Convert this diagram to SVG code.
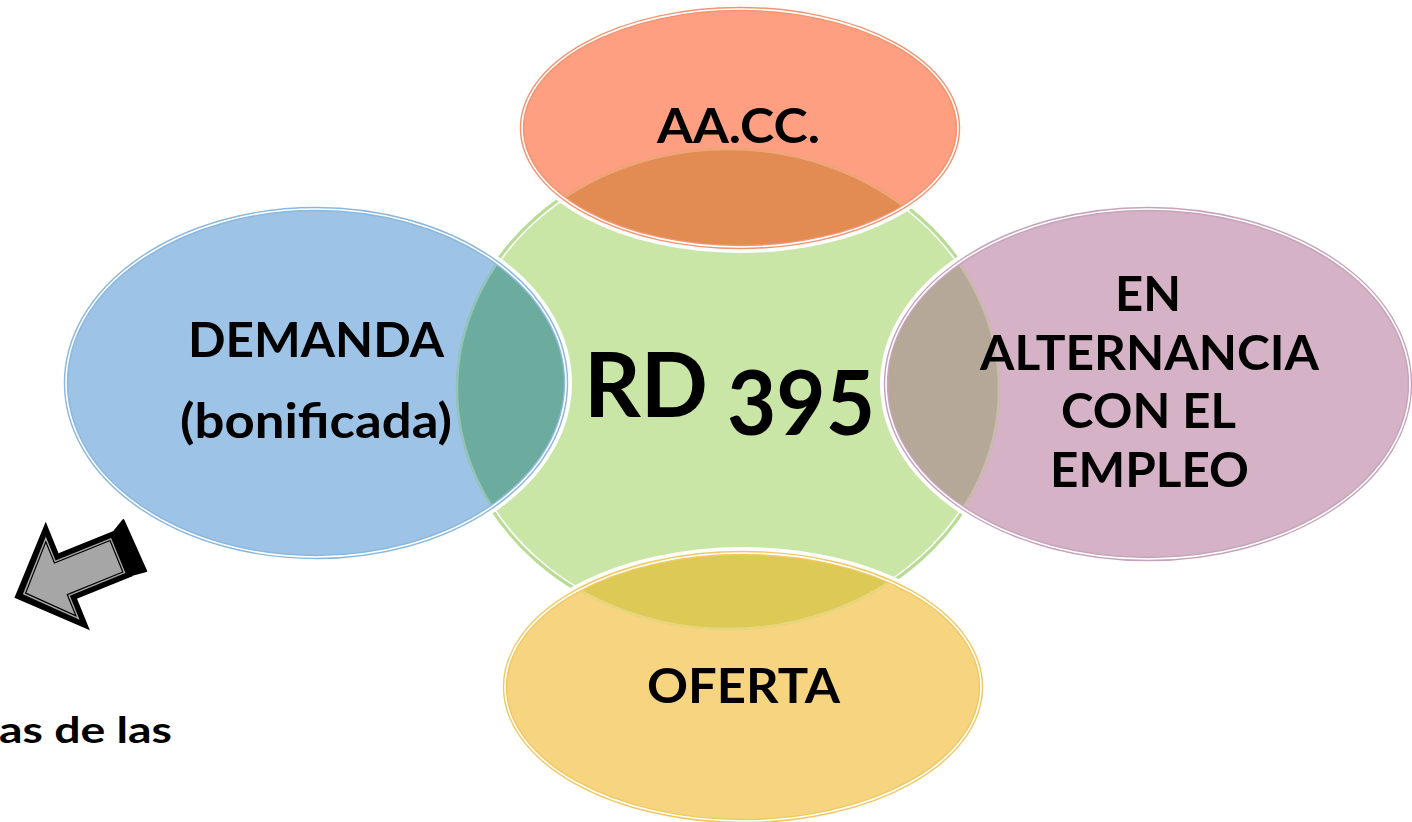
<svg xmlns="http://www.w3.org/2000/svg" width="1412" height="822" viewBox="0 0 1412 822">
<defs>
<style>
.lbl{font-family:Lato,"Open Sans","Liberation Sans",sans-serif;font-weight:700;fill:#000;font-size:48px}
.big{font-size:89px}
.halo{fill:none;stroke:#fff;stroke-width:5}
.wl{fill:none;stroke:#fff;stroke-width:1.6}
</style>
<clipPath id="cg"><ellipse cx="728" cy="389" rx="272" ry="241"/></clipPath>
<clipPath id="cb"><ellipse cx="316" cy="383" rx="250" ry="174"/></clipPath>
<clipPath id="co"><ellipse cx="740" cy="128" rx="218" ry="119"/></clipPath>
<clipPath id="cp"><ellipse cx="1148" cy="384" rx="262" ry="175"/></clipPath>
<clipPath id="cy"><ellipse cx="743" cy="687" rx="238" ry="134"/></clipPath>
</defs>
<rect width="1412" height="822" fill="#fff"/>

<g id="node-rd395">
<ellipse cx="728" cy="389" rx="272" ry="241" fill="#c9e6a6" stroke="#b8dc94" stroke-width="4"/>
<ellipse cx="728" cy="389" rx="270" ry="239" class="wl"/>
</g>

<g id="node-demanda">
<ellipse cx="316" cy="383" rx="253.5" ry="177.5" class="halo"/>
<ellipse cx="316" cy="383" rx="250" ry="174" fill="#9dc3e6"/>
<ellipse cx="316" cy="383" rx="250" ry="174" fill="#6cac9e" clip-path="url(#cg)"/>
<g clip-path="url(#cb)"><ellipse cx="728" cy="389" rx="271" ry="240" fill="none" stroke="#94c4b8" stroke-width="2.5"/></g>
<ellipse cx="316" cy="383" rx="250" ry="174" fill="none" stroke="#8bb8de" stroke-width="4.5"/>
<ellipse cx="316" cy="383" rx="250" ry="174" class="wl"/>
<text class="lbl" x="188" y="357" textLength="256" lengthAdjust="spacingAndGlyphs">DEMANDA</text>
<text class="lbl" x="180" y="438" textLength="272" lengthAdjust="spacingAndGlyphs">(bonificada)</text>
</g>

<g id="node-aacc">
<ellipse cx="740" cy="128" rx="221.5" ry="122.5" class="halo"/>
<ellipse cx="740" cy="128" rx="218" ry="119" fill="#ff9f82"/>
<ellipse cx="740" cy="128" rx="218" ry="119" fill="#e28c54" clip-path="url(#cg)"/>
<g clip-path="url(#co)"><ellipse cx="728" cy="389" rx="271" ry="240" fill="none" stroke="#eda77a" stroke-width="2.5"/></g>
<ellipse cx="740" cy="128" rx="218" ry="119" fill="none" stroke="#f29470" stroke-width="4.5"/>
<ellipse cx="740" cy="128" rx="218" ry="119" class="wl"/>
<text class="lbl" x="657" y="143" textLength="163" lengthAdjust="spacingAndGlyphs">AA.CC.</text>
</g>

<g id="node-alternancia">
<ellipse cx="1148" cy="384" rx="265.5" ry="178.5" class="halo"/>
<ellipse cx="1148" cy="384" rx="262" ry="175" fill="#d5b2c6"/>
<ellipse cx="1148" cy="384" rx="262" ry="175" fill="#b5a898" clip-path="url(#cg)"/>
<g clip-path="url(#cp)"><ellipse cx="728" cy="389" rx="271" ry="240" fill="none" stroke="#c9bcae" stroke-width="2.5"/></g>
<ellipse cx="1148" cy="384" rx="262" ry="175" fill="none" stroke="#c6a3ba" stroke-width="4.5"/>
<ellipse cx="1148" cy="384" rx="262" ry="175" class="wl"/>
<text class="lbl" x="1115" y="311" textLength="66" lengthAdjust="spacingAndGlyphs">EN</text>
<text class="lbl" x="980" y="370" textLength="339" lengthAdjust="spacingAndGlyphs">ALTERNANCIA</text>
<text class="lbl" x="1061" y="428" textLength="175" lengthAdjust="spacingAndGlyphs">CON EL</text>
<text class="lbl" x="1050" y="487" textLength="199" lengthAdjust="spacingAndGlyphs">EMPLEO</text>
</g>

<g id="node-oferta">
<ellipse cx="743" cy="687" rx="241.5" ry="137.5" class="halo"/>
<ellipse cx="743" cy="687" rx="238" ry="134" fill="#f7d480"/>
<ellipse cx="743" cy="687" rx="238" ry="134" fill="#dcc956" clip-path="url(#cg)"/>
<g clip-path="url(#cy)"><ellipse cx="728" cy="389" rx="271" ry="240" fill="none" stroke="#e6d67c" stroke-width="2.5"/></g>
<ellipse cx="743" cy="687" rx="238" ry="134" fill="none" stroke="#f0c962" stroke-width="4.5"/>
<ellipse cx="743" cy="687" rx="238" ry="134" class="wl"/>
<text class="lbl" x="647" y="703" textLength="193" lengthAdjust="spacingAndGlyphs">OFERTA</text>
</g>

<g id="node-rd395-label">
<text class="lbl big" x="584" y="417" textLength="124" lengthAdjust="spacingAndGlyphs">RD</text>
<text class="lbl big" x="727" y="435" textLength="148" lengthAdjust="spacingAndGlyphs">395</text>
</g>

<g id="connectors">
<g transform="translate(122,554) rotate(157.9)">
<polygon points="0,23 -14,31 -16,-25 0,-23" fill="#000" stroke="#000" stroke-width="2" stroke-linejoin="round"/>
<polygon points="0,-23 60,-23 60,-55 114,0 60,55 60,23 0,23" fill="#000" stroke="#000" stroke-width="3" stroke-linejoin="miter"/>
<polygon points="4,-19 64,-19 64,-45 107,0 64,45 64,19 4,19" fill="#a6a6a6"/>
<polygon points="6,-17 66,-17 66,-40 104,0 66,40 66,17 6,17" fill="none" stroke="#000" stroke-width="1.2"/>
</g>
</g>

<g id="caption">
<text class="lbl" x="-1" y="743" style="font-size:36px" textLength="173" lengthAdjust="spacingAndGlyphs">as de las</text>
</g>
</svg>
